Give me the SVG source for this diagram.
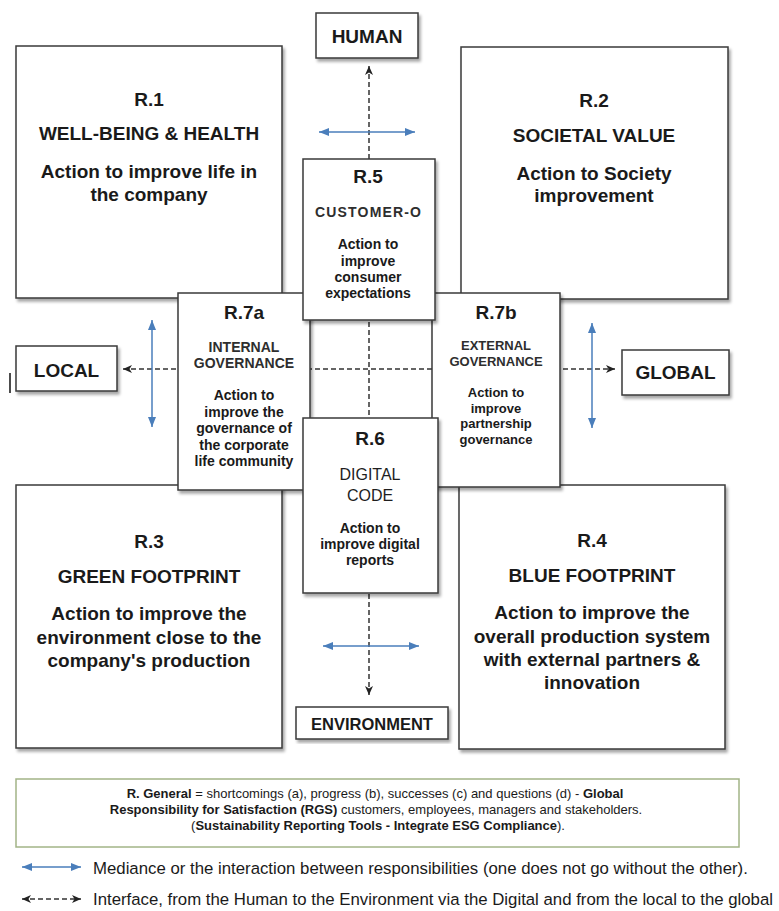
<svg xmlns="http://www.w3.org/2000/svg" width="779" height="911" viewBox="0 0 779 911">
<style>
  .box { fill: #ffffff; stroke: #3a3a3a; stroke-width: 1.5; }
  .t { font-family: "Liberation Sans", Arial, sans-serif; fill: #1a1a1a; text-anchor: middle; }
  .b19 { font-size: 19px; font-weight: bold; }
  .b14 { font-size: 14px; font-weight: bold; }
  .b13 { font-size: 13px; font-weight: bold; }
  .g14 { font-size: 14px; font-weight: bold; fill: #2e2e2e; }
  .g13 { font-size: 13px; font-weight: bold; fill: #2e2e2e; }
  .r16 { font-size: 16px; fill: #1e1e1e; }
  .dash { fill: none; stroke: #333333; stroke-width: 1.5; stroke-dasharray: 5 3; }
  .blue { fill: none; stroke: #4A7EBB; stroke-width: 1.5; }
  .leg { font-family: "Liberation Sans", Arial, sans-serif; fill: #1a1a1a; }
</style>
<defs>
  <filter id="sh" x="-10%" y="-10%" width="125%" height="125%">
    <feDropShadow dx="2" dy="3" stdDeviation="1.8" flood-color="#000000" flood-opacity="0.35"/>
  </filter>
  <marker id="bh" viewBox="0 0 10 8" refX="10" refY="4" markerWidth="10" markerHeight="8" markerUnits="userSpaceOnUse" orient="auto-start-reverse">
    <path d="M0,0 L10,4 L0,8 z" fill="#4A7EBB"/>
  </marker>
  <marker id="dh" viewBox="0 0 9 8" refX="9" refY="4" markerWidth="9" markerHeight="8" markerUnits="userSpaceOnUse" orient="auto-start-reverse">
    <path d="M0,0 L9,4 L0,8 L2.5,4 z" fill="#222222"/>
  </marker>
</defs>

<g id="connectors">
  <line class="dash" x1="369" y1="66" x2="369" y2="695" marker-start="url(#dh)" marker-end="url(#dh)"/>
  <line class="dash" x1="123" y1="369" x2="615" y2="369" marker-start="url(#dh)" marker-end="url(#dh)"/>
  <line class="blue" x1="319" y1="132" x2="415" y2="132" marker-start="url(#bh)" marker-end="url(#bh)"/>
  <line class="blue" x1="323" y1="646" x2="419" y2="646" marker-start="url(#bh)" marker-end="url(#bh)"/>
  <line class="blue" x1="152" y1="320" x2="152" y2="427" marker-start="url(#bh)" marker-end="url(#bh)"/>
  <line class="blue" x1="592" y1="323" x2="592" y2="428" marker-start="url(#bh)" marker-end="url(#bh)"/>
</g>

<g id="r1">
  <rect class="box" x="16" y="46" width="266" height="252" filter="url(#sh)"/>
  <text class="t b19" x="149" y="106">R.1</text>
  <text class="t b19" x="149" y="140">WELL-BEING &amp; HEALTH</text>
  <text class="t b19" x="149" y="178">Action to improve life in</text>
  <text class="t b19" x="149" y="201">the company</text>
</g>

<g id="r2">
  <rect class="box" x="461" y="47" width="267" height="252" filter="url(#sh)"/>
  <text class="t b19" x="594" y="107">R.2</text>
  <text class="t b19" x="594" y="142">SOCIETAL VALUE</text>
  <text class="t b19" x="594" y="180">Action to Society</text>
  <text class="t b19" x="594" y="202">improvement</text>
</g>

<g id="r3">
  <rect class="box" x="16" y="485" width="266" height="263" filter="url(#sh)"/>
  <text class="t b19" x="149" y="548">R.3</text>
  <text class="t b19" x="149" y="583">GREEN FOOTPRINT</text>
  <text class="t b19" x="149" y="620">Action to improve the</text>
  <text class="t b19" x="149" y="644">environment close to the</text>
  <text class="t b19" x="149" y="667">company's production</text>
</g>

<g id="r4">
  <rect class="box" x="459" y="485" width="266" height="264" filter="url(#sh)"/>
  <text class="t b19" x="592" y="547">R.4</text>
  <text class="t b19" x="592" y="582">BLUE FOOTPRINT</text>
  <text class="t b19" x="592" y="619">Action to improve the</text>
  <text class="t b19" x="592" y="643">overall production system</text>
  <text class="t b19" x="592" y="666">with external partners &amp;</text>
  <text class="t b19" x="592" y="689">innovation</text>
</g>

<g id="r7a">
  <rect class="box" x="178" y="293" width="132" height="197" filter="url(#sh)"/>
  <text class="t b19" x="244" y="319">R.7a</text>
  <text class="t g14" x="244" y="352">INTERNAL</text>
  <text class="t g14" x="244" y="368">GOVERNANCE</text>
  <text class="t b14" x="244" y="400">Action to</text>
  <text class="t b14" x="244" y="416.5">improve the</text>
  <text class="t b14" x="244" y="433">governance of</text>
  <text class="t b14" x="244" y="449.5">the corporate</text>
  <text class="t b14" x="244" y="466">life community</text>
</g>

<g id="r7b">
  <rect class="box" x="432" y="293" width="128" height="194" filter="url(#sh)"/>
  <text class="t b19" x="496" y="319">R.7b</text>
  <text class="t g13" x="496" y="350">EXTERNAL</text>
  <text class="t g13" x="496" y="366">GOVERNANCE</text>
  <text class="t b13" x="496" y="397">Action to</text>
  <text class="t b13" x="496" y="412.5">improve</text>
  <text class="t b13" x="496" y="428">partnership</text>
  <text class="t b13" x="496" y="444">governance</text>
</g>

<g id="r5">
  <rect class="box" x="303" y="159" width="132" height="161" filter="url(#sh)"/>
  <text class="t b19" x="368" y="183">R.5</text>
  <text class="t g14" x="368" y="217" textLength="106" lengthAdjust="spacing">CUSTOMER-O</text>
  <text class="t b14" x="368" y="249">Action to</text>
  <text class="t b14" x="368" y="265.5">improve</text>
  <text class="t b14" x="368" y="282">consumer</text>
  <text class="t b14" x="368" y="298">expectations</text>
</g>

<g id="r6">
  <rect class="box" x="303" y="418" width="135" height="175" filter="url(#sh)"/>
  <text class="t b19" x="370" y="445">R.6</text>
  <text class="t r16" x="370" y="480">DIGITAL</text>
  <text class="t r16" x="370" y="501">CODE</text>
  <text class="t b14" x="370" y="533">Action to</text>
  <text class="t b14" x="370" y="549">improve digital</text>
  <text class="t b14" x="370" y="565">reports</text>
</g>

<g id="human">
  <rect class="box" x="316" y="13" width="102" height="45" filter="url(#sh)"/>
  <text class="t b19" x="367" y="43">HUMAN</text>
</g>

<g id="local">
  <rect class="box" x="16" y="346" width="101" height="45" filter="url(#sh)"/>
  <text class="t b19" x="66.5" y="377">LOCAL</text>
  <line x1="10" y1="373" x2="10" y2="393" stroke="#111111" stroke-width="1.5"/>
</g>

<g id="global">
  <rect class="box" x="622" y="350" width="107" height="45" filter="url(#sh)"/>
  <text class="t b19" x="675.5" y="379">GLOBAL</text>
</g>

<g id="environment">
  <rect class="box" x="296" y="707" width="152" height="32" filter="url(#sh)"/>
  <text class="t" x="372" y="730" style="font-size:16.5px;font-weight:bold">ENVIRONMENT</text>
</g>

<g id="legend">
  <rect x="16" y="779" width="723" height="68" fill="#ffffff" stroke="#a2b487" stroke-width="1.5"/>
  <text class="leg" x="375" y="798" text-anchor="middle" font-size="13"><tspan font-weight="bold">R. General</tspan> = shortcomings (a), progress (b), successes (c) and questions (d) - <tspan font-weight="bold">Global</tspan></text>
  <text class="leg" x="376" y="814" text-anchor="middle" font-size="13"><tspan font-weight="bold">Responsibility for Satisfaction (RGS)</tspan> customers, employees, managers and stakeholders.</text>
  <text class="leg" x="378" y="830" text-anchor="middle" font-size="13">(<tspan font-weight="bold">Sustainability Reporting Tools - Integrate ESG Compliance</tspan>).</text>
  <line class="blue" x1="22" y1="867" x2="81" y2="867" marker-start="url(#bh)" marker-end="url(#bh)"/>
  <text class="leg" x="93" y="874" font-size="16.8">Mediance or the interaction between responsibilities (one does not go without the other).</text>
  <line class="dash" x1="22" y1="899" x2="81" y2="899" marker-start="url(#dh)" marker-end="url(#dh)"/>
  <text class="leg" x="93" y="905" font-size="16.8">Interface, from the Human to the Environment via the Digital and from the local to the global</text>
</g>
</svg>
